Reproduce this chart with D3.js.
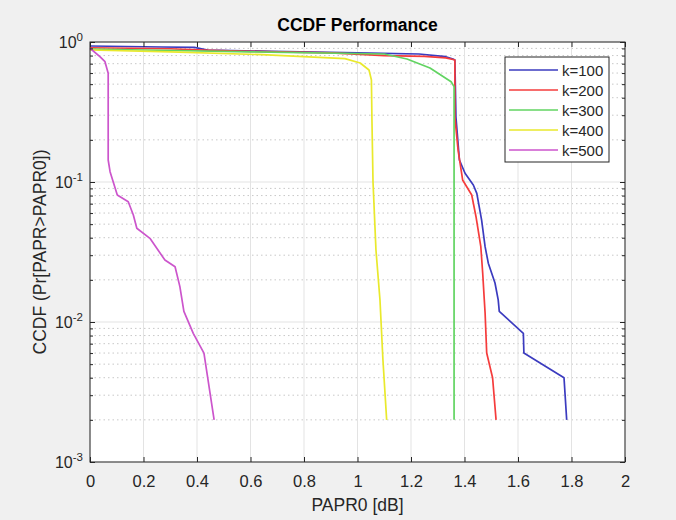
<!DOCTYPE html>
<html>
<head>
<meta charset="utf-8">
<script src="https://cdn.jsdelivr.net/npm/d3@7"></script>
<style>
    body { margin: 0; background: #f0f0f0; }
    svg { display: block; font-family: "Liberation Sans", Arial, Helvetica, sans-serif; }
</style>
</head>
<body>
<svg id="ccdf"></svg>
<script>
let width = 676,
    height = 520;

let margin = {top: 42, right: 51, bottom: 58, left: 90};

let xTicks = [0, 0.2, 0.4, 0.6, 0.8, 1, 1.2, 1.4, 1.6, 1.8, 2];
let yExponents = [-3, -2, -1, 0];
let minorMultipliers = [2, 3, 4, 5, 6, 7, 8, 9];

let labels = ['k=100', 'k=200', 'k=300', 'k=400', 'k=500'];

// [PAPR0 dB, Pr[PAPR>PAPR0]]
let k100 = [[0, 0.936], [0.27, 0.921], [0.39, 0.915], [0.44, 0.877], [0.68, 0.858], [1.0, 0.835],
    [1.23, 0.821], [1.33, 0.785], [1.357, 0.756], [1.364, 0.744], [1.368, 0.291], [1.381, 0.1436],
    [1.402, 0.1154], [1.433, 0.0952], [1.446, 0.083], [1.464, 0.0535], [1.477, 0.0345], [1.489, 0.0263],
    [1.514, 0.019], [1.526, 0.0144], [1.530, 0.0119], [1.620, 0.0083], [1.622, 0.006], [1.772, 0.004],
    [1.782, 0.002]];
let k200 = [[0, 0.91], [0.3, 0.895], [0.45, 0.87], [0.6, 0.858], [0.9, 0.835], [1.1, 0.80], [1.25, 0.79],
    [1.33, 0.77], [1.357, 0.75], [1.364, 0.744], [1.364, 0.291], [1.376, 0.169], [1.393, 0.1034],
    [1.427, 0.0807], [1.443, 0.0565], [1.461, 0.0345], [1.468, 0.0224], [1.474, 0.0144], [1.477, 0.0116],
    [1.483, 0.006], [1.505, 0.004], [1.518, 0.002]];
let k300 = [[0, 0.891], [0.206, 0.877], [0.6, 0.85], [1.1, 0.821], [1.185, 0.756], [1.271, 0.652],
    [1.35, 0.52], [1.361, 0.48], [1.361, 0.002]];
let k400 = [[0, 0.877], [0.3, 0.85], [0.643, 0.812], [0.953, 0.76], [1.01, 0.708], [1.043, 0.631],
    [1.052, 0.535], [1.054, 0.277], [1.058, 0.1], [1.069, 0.0327], [1.084, 0.0144], [1.095, 0.0054],
    [1.109, 0.002]];
let k500 = [[0, 0.902], [0.037, 0.785], [0.056, 0.723], [0.068, 0.598], [0.068, 0.1436], [0.075, 0.1185],
    [0.102, 0.0807], [0.143, 0.0723], [0.162, 0.0581], [0.175, 0.0467], [0.224, 0.0396], [0.280, 0.0277],
    [0.318, 0.0248], [0.336, 0.0179], [0.351, 0.0119], [0.386, 0.0083], [0.426, 0.006], [0.464, 0.002]];

let series = [k100, k200, k300, k400, k500];
let colors = ['#3b3bbf', '#f53c3c', '#62d462', '#e9e92c', '#cc55cc'];

let svg = d3.select('svg#ccdf')
    .attr('width', width)
    .attr('height', height);

let x = d3.scaleLinear().domain([0, 2]).range([margin.left, width - margin.right]);
let y = d3.scaleLog().domain([1e-3, 1]).range([height - margin.bottom, margin.top]);

let x0 = x.range()[0], x1 = x.range()[1],
    yb = y.range()[0], yt = y.range()[1];

function minorValues() {
    let minors = [];
    for (let e of yExponents.slice(0, -1)) {
        for (let m of minorMultipliers) minors.push(m * Math.pow(10, e));
    }
    return minors;
}

function drawGrid() {
    svg.append('rect')
        .attr('x', x0).attr('y', yt)
        .attr('width', x1 - x0).attr('height', yb - yt)
        .attr('fill', '#fff');

    svg.append('g').selectAll('line')
        .data(minorValues())
        .join('line')
        .attr('x1', x0).attr('x2', x1)
        .attr('y1', d => y(d)).attr('y2', d => y(d))
        .attr('stroke', '#c8c8c8')
        .attr('stroke-width', 1)
        .attr('stroke-dasharray', '1.5,3');

    svg.append('g').selectAll('line')
        .data(xTicks)
        .join('line')
        .attr('x1', d => x(d)).attr('x2', d => x(d))
        .attr('y1', yt).attr('y2', yb)
        .attr('stroke', '#e3e3e3');

    svg.append('g').selectAll('line')
        .data(yExponents.map(e => Math.pow(10, e)))
        .join('line')
        .attr('x1', x0).attr('x2', x1)
        .attr('y1', d => y(d)).attr('y2', d => y(d))
        .attr('stroke', '#e3e3e3');
}

function drawLines() {
    let line = d3.line()
        .x(d => x(d[0]))
        .y(d => y(d[1]));
    svg.append('g').selectAll('path')
        .data(series)
        .join('path')
        .attr('d', line)
        .attr('fill', 'none')
        .attr('stroke', (d, i) => colors[i])
        .attr('stroke-width', 1.7)
        .attr('stroke-linejoin', 'round');
}

function drawAxes() {
    let axisColor = '#262626';
    let fmt = d => d3.format('~g')(d);
    let majors = yExponents.map(e => Math.pow(10, e));

    let bottom = svg.append('g')
        .attr('transform', `translate(0,${yb})`)
        .call(d3.axisBottom(x).tickValues(xTicks).tickFormat(fmt).tickSizeInner(-5).tickSizeOuter(0).tickPadding(13));
    let top = svg.append('g')
        .attr('transform', `translate(0,${yt})`)
        .call(d3.axisTop(x).tickValues(xTicks).tickFormat('').tickSizeInner(-5).tickSizeOuter(0));
    let left = svg.append('g')
        .attr('transform', `translate(${x0},0)`)
        .call(d3.axisLeft(y).tickValues(majors).tickFormat('').tickSizeInner(-5).tickSizeOuter(0));
    let leftMinor = svg.append('g')
        .attr('transform', `translate(${x0},0)`)
        .call(d3.axisLeft(y).tickValues(minorValues()).tickFormat('').tickSizeInner(-3).tickSizeOuter(0));
    let right = svg.append('g')
        .attr('transform', `translate(${x1},0)`)
        .call(d3.axisRight(y).tickValues(majors).tickFormat('').tickSizeInner(-5).tickSizeOuter(0));
    let rightMinor = svg.append('g')
        .attr('transform', `translate(${x1},0)`)
        .call(d3.axisRight(y).tickValues(minorValues()).tickFormat('').tickSizeInner(-3).tickSizeOuter(0));

    for (let g of [bottom, top, left, leftMinor, right, rightMinor]) {
        g.select('.domain').remove();
        g.selectAll('line').attr('stroke', axisColor);
        g.selectAll('text')
            .attr('fill', axisColor)
            .attr('font-size', 16.5)
            .attr('font-family', '"Liberation Sans", Arial, sans-serif');
    }

    svg.append('rect')
        .attr('x', x0).attr('y', yt)
        .attr('width', x1 - x0).attr('height', yb - yt)
        .attr('fill', 'none')
        .attr('stroke', axisColor)
        .attr('stroke-width', 1);

    // y tick labels as 10^e
    let yl = svg.append('g').selectAll('text')
        .data(yExponents)
        .join('text')
        .attr('x', x0 - 7)
        .attr('y', d => y(Math.pow(10, d)) + 6)
        .attr('text-anchor', 'end')
        .attr('fill', axisColor)
        .attr('font-size', 16);
    yl.append('tspan').text('10');
    yl.append('tspan')
        .attr('dy', -7)
        .attr('font-size', 11.5)
        .text(d => d === 0 ? '0' : '-' + Math.abs(d));

    svg.append('text')
        .attr('x', (x0 + x1) / 2)
        .attr('y', 31)
        .attr('text-anchor', 'middle')
        .attr('font-weight', 'bold')
        .attr('font-size', 17.5)
        .attr('fill', '#000')
        .text('CCDF Performance');

    svg.append('text')
        .attr('x', (x0 + x1) / 2)
        .attr('y', 511)
        .attr('text-anchor', 'middle')
        .attr('font-size', 17.5)
        .attr('fill', axisColor)
        .text('PAPR0 [dB]');

    svg.append('text')
        .attr('transform', `translate(46,${(yt + yb) / 2}) rotate(-90)`)
        .attr('text-anchor', 'middle')
        .attr('font-size', 17.5)
        .attr('fill', axisColor)
        .text('CCDF (Pr[PAPR>PAPR0])');
}

function drawLegend() {
    let lx = 505, ly = 57, lw = 104, lh = 105;
    let legend = svg.append('g');
    legend.append('rect')
        .attr('x', lx).attr('y', ly)
        .attr('width', lw).attr('height', lh)
        .attr('fill', '#fff')
        .attr('stroke', '#262626');
    let item = legend.selectAll('g.item')
        .data(labels)
        .join('g')
        .attr('class', 'item')
        .attr('transform', (d, i) => `translate(0,${ly + 13 + i * 20})`);
    item.append('line')
        .attr('x1', lx + 4).attr('x2', lx + 53)
        .attr('stroke', (d, i) => colors[i])
        .attr('stroke-width', 1.7);
    item.append('text')
        .attr('x', lx + 57)
        .attr('y', 5.5)
        .attr('font-size', 15)
        .attr('fill', '#262626')
        .text(d => d);
}

drawGrid();
drawLines();
drawAxes();
drawLegend();
</script>
</body>
</html>
